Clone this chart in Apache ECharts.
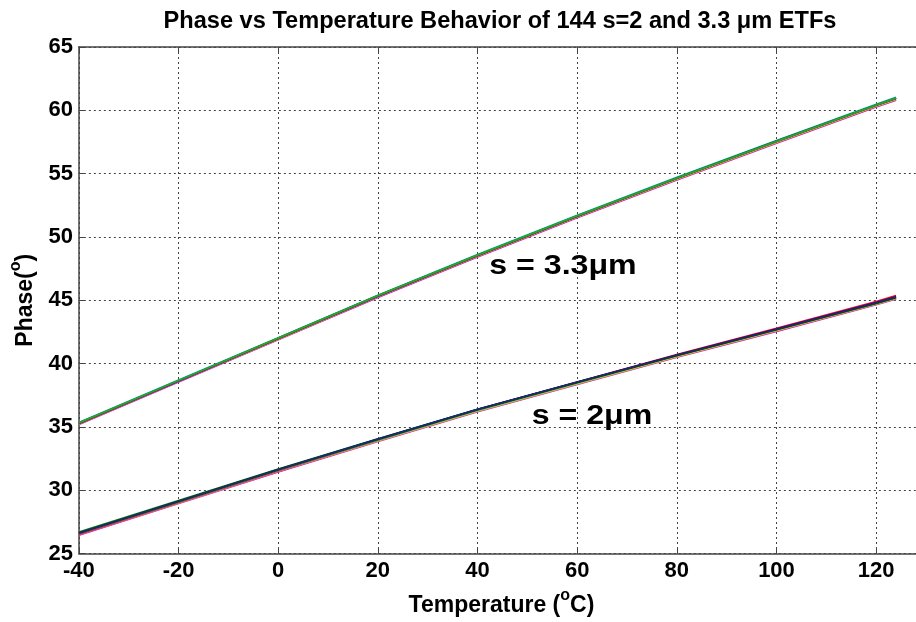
<!DOCTYPE html>
<html>
<head>
<meta charset="utf-8">
<script src="https://cdn.jsdelivr.net/npm/echarts@6/dist/echarts.min.js"></script>
<style>
html,body{margin:0;padding:0;background:#fff;}
#chart{width:916px;height:622px;}
</style>
</head>
<body>
<div id="chart"></div>
<script>
// Temperatures (°C)
var temps = [-40, -20, 0, 20, 40, 60, 80, 100, 120, 124];
var xTicks = [-40, -20, 0, 20, 40, 60, 80, 100, 120];
var yTicks = [25, 30, 35, 40, 45, 50, 55, 60, 65];

// s = 3.3 µm ETF traces (phase, degrees)
var s33_m = [35.20, 38.55, 41.88, 45.22, 48.42, 51.52, 54.50, 57.40, 60.26, 60.80];
var s33_y = [35.24, 38.60, 41.93, 45.28, 48.48, 51.58, 54.57, 57.47, 60.32, 60.86];
var s33_b = [35.27, 38.63, 41.98, 45.33, 48.54, 51.64, 54.64, 57.55, 60.40, 60.95];
var s33_r = [35.28, 38.64, 41.99, 45.34, 48.55, 51.66, 54.66, 57.57, 60.43, 60.98];
var s33_k = [35.29, 38.64, 41.99, 45.34, 48.55, 51.65, 54.65, 57.56, 60.42, 60.97];
var s33_g = [35.31, 38.66, 42.01, 45.36, 48.56, 51.66, 54.65, 57.55, 60.41, 60.96];
var s33_c = [35.34, 38.69, 42.04, 45.39, 48.60, 51.70, 54.70, 57.61, 60.48, 61.03];

// s = 2 µm ETF traces (phase, degrees)
var s2_m = [26.45, 28.95, 31.45, 33.85, 36.20, 38.36, 40.50, 42.55, 44.65, 45.10];
var s2_y = [26.50, 29.00, 31.50, 33.90, 36.25, 38.40, 40.55, 42.60, 44.70, 45.15];
var s2_r = [26.52, 29.03, 31.55, 33.98, 36.36, 38.53, 40.70, 42.77, 44.90, 45.36];
var s2_c = [26.58, 29.08, 31.58, 33.98, 36.33, 38.48, 40.62, 42.67, 44.76, 45.21];
var s2_b = [26.61, 29.12, 31.63, 34.04, 36.39, 38.54, 40.67, 42.72, 44.81, 45.26];
var s2_k = [26.62, 29.12, 31.62, 34.02, 36.37, 38.51, 40.64, 42.69, 44.78, 45.23];
var s2_g = [26.68, 29.17, 31.66, 34.05, 36.38, 38.52, 40.64, 42.68, 44.76, 45.20];

var traces = [
  {d: s33_m, c: '#e000e0'}, {d: s33_y, c: '#c8c800'}, {d: s33_b, c: '#0000ff'},
  {d: s33_r, c: '#d04000'}, {d: s33_c, c: '#00c0c0'}, {d: s33_k, c: '#303030'},
  {d: s33_g, c: '#30a030'},
  {d: s2_m, c: '#e000e0'}, {d: s2_y, c: '#c8c800'}, {d: s2_r, c: '#ff0000'},
  {d: s2_c, c: '#00c0c0'}, {d: s2_g, c: '#008000'}, {d: s2_b, c: '#0000ff'},
  {d: s2_k, c: '#203040'}
];

var FONT = '"Liberation Sans", Arial, sans-serif';
var chart = echarts.init(document.getElementById('chart'), null, {renderer: 'canvas'});

var series = traces.map(function (t) {
  return {
    type: 'line',
    data: temps.map(function (x, i) { return [x, t.d[i]]; }),
    showSymbol: false,
    lineStyle: {color: t.c, width: 1.8},
    itemStyle: {color: t.c},
    silent: true,
    animation: false,
    z: 3
  };
});

var gridDash = {color: '#444', width: 1, type: [2, 3]};
var supStyle = {fontFamily: FONT, fontWeight: 'bold', fontSize: 16, color: '#000', verticalAlign: 'top', padding: [0, 0, 20, 0]};

chart.setOption({
  animation: false,
  backgroundColor: '#fff',
  grid: {left: 76, top: 47, right: 0, bottom: 67, show: false},
  xAxis: [{
    type: 'value', min: -40, max: 128, interval: 20,
    position: 'bottom',
    name: 'Temperature ({sup|o}C)',
    nameLocation: 'middle', nameGap: 34,
    nameTextStyle: {
      fontFamily: FONT, fontWeight: 'bold', fontSize: 23, color: '#000',
      padding: [0, 0, 0, 8],
      rich: {sup: supStyle}
    },
    axisLine: {show: true, onZero: false, lineStyle: {color: '#444', width: 1.5}},
    axisTick: {show: true, inside: true, length: 6, lineStyle: {color: '#444'}},
    axisLabel: {
      fontFamily: FONT, fontWeight: 'bold', fontSize: 22, color: '#000', margin: 6,
      showMaxLabel: false,
      formatter: function (v) { return xTicks.indexOf(v) >= 0 ? String(v) : ''; }
    },
    splitLine: {show: true, lineStyle: gridDash}
  }, {
    type: 'value', min: -40, max: 128, interval: 20,
    position: 'top',
    axisLine: {show: true, onZero: false, lineStyle: {color: '#444', width: 1.5}},
    axisTick: {show: true, inside: true, length: 6, lineStyle: {color: '#444'}},
    axisLabel: {show: false},
    splitLine: {show: false}
  }],
  yAxis: [{
    type: 'value', min: 25, max: 65, interval: 5,
    position: 'left',
    name: 'Phase({sup|o})',
    nameLocation: 'middle', nameGap: 34, nameRotate: 90,
    nameTextStyle: {
      fontFamily: FONT, fontWeight: 'bold', fontSize: 23, color: '#000',
      rich: {sup: supStyle}
    },
    axisLine: {show: true, onZero: false, lineStyle: {color: '#444', width: 1.5}},
    axisTick: {show: true, inside: true, length: 6, lineStyle: {color: '#444'}},
    axisLabel: {
      fontFamily: FONT, fontWeight: 'bold', fontSize: 22, color: '#000', margin: 6,
      formatter: function (v) { return yTicks.indexOf(v) >= 0 ? String(v) : ''; }
    },
    splitLine: {show: true, lineStyle: gridDash}
  }],
  graphic: [
    {type: 'text', x: 500, y: 9, z: 10,
     style: {text: 'Phase vs Temperature Behavior of 144 s=2 and 3.3 \u03bcm ETFs',
              font: 'bold 23.6px ' + FONT, fill: '#000', textAlign: 'center', textVerticalAlign: 'top'}},
    {type: 'text', x: 563, y: 267, scaleX: 1.19, z: 10,
     style: {text: 's = 3.3\u03bcm', font: 'bold 27px ' + FONT, fill: '#000',
              textAlign: 'center', textVerticalAlign: 'middle'}},
    {type: 'text', x: 592, y: 417, scaleX: 1.19, z: 10,
     style: {text: 's = 2\u03bcm', font: 'bold 27px ' + FONT, fill: '#000',
              textAlign: 'center', textVerticalAlign: 'middle'}}
  ],
  series: series
});
</script>
</body>
</html>
